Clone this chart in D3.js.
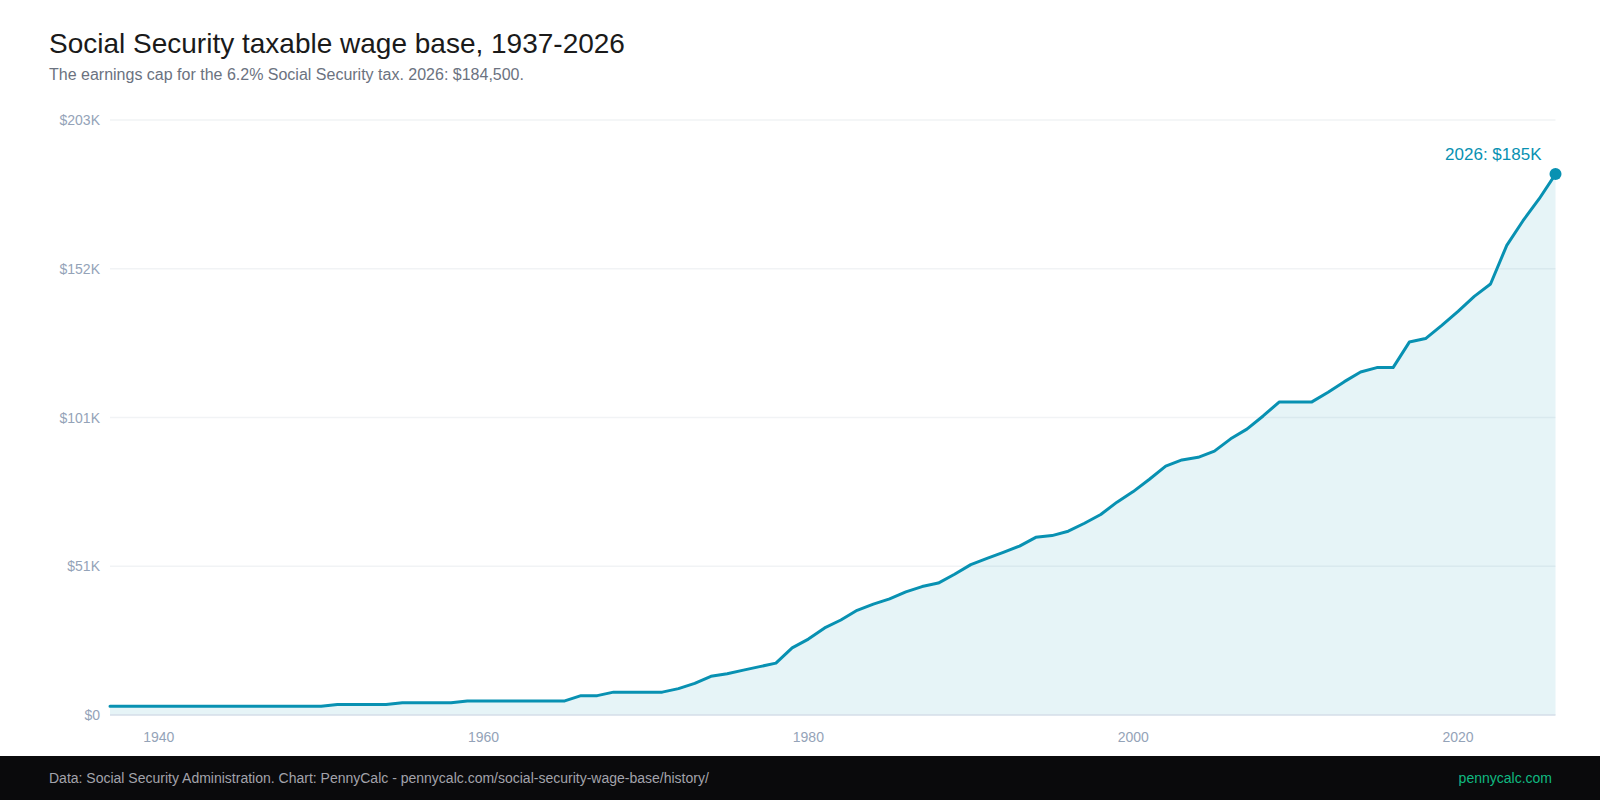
<!DOCTYPE html>
<html><head><meta charset="utf-8">
<script src="https://cdn.jsdelivr.net/npm/d3@7"></script>
<style>html,body{margin:0;padding:0;background:#fff;}svg{display:block;font-family:"Liberation Sans",Arial,Helvetica,sans-serif;}</style>
</head><body>
<svg id="c" width="1600" height="800"></svg>
<script>
const years = d3.range(1937, 2027);
const wageBase = [
 3000,3000,3000,3000,3000,3000,3000,3000,3000,3000,3000,3000,3000,3000, // 1937-1950
 3600,3600,3600,3600, // 1951-1954
 4200,4200,4200,4200, // 1955-1958
 4800,4800,4800,4800,4800,4800,4800, // 1959-1965
 6600,6600, // 1966-1967
 7800,7800,7800,7800, // 1968-1971
 9000,10800,13200,14100,15300,16500,17700, // 1972-1978
 22900,25900,29700,32400,35700,37800,39600,42000,43800,45000, // 1979-1988
 48000,51300,53400,55500,57600,60600,61200,62700,65400,68400, // 1989-1998
 72600,76200,80400,84900,87000,87900,90000,94200,97500,102000, // 1999-2008
 106800,106800,106800,110100,113700,117000,118500,118500,127200,128400, // 2009-2018
 132900,137700,142800,147000,160200,168600,176100,184500 // 2019-2026
];
const yTicks = [0, 50737.5, 101475, 152212.5, 202950];
const xTicks = [1940, 1960, 1980, 2000, 2020];
const titleText = "Social Security taxable wage base, 1937-2026";
const subtitleText = "The earnings cap for the 6.2% Social Security tax. 2026: $184,500.";
const sourceText = "Data: Social Security Administration. Chart: PennyCalc - pennycalc.com/social-security-wage-base/history/";
const brandText = "pennycalc.com";

const data = years.map((y, i) => ({year: y, value: wageBase[i]}));
const svg = d3.select("#c");
const L = 110, R = 1555.5, T = 120, B = 715;
const x = d3.scaleLinear().domain([1937, 2026]).range([L, R]);
const y = d3.scaleLinear().domain([0, 202950]).range([B, T]);
const col = "#0891b2";

svg.append("text").attr("x", 49).attr("y", 53).attr("font-size", 28).attr("fill", "#1a1a1a").text(titleText);
svg.append("text").attr("x", 49).attr("y", 80).attr("font-size", 16).attr("fill", "#6b7280").text(subtitleText);

// gridlines
svg.append("g").selectAll("line").data(yTicks.slice(1)).join("line")
  .attr("x1", L).attr("x2", R).attr("y1", d => y(d)).attr("y2", d => y(d))
  .attr("stroke", "#f1f3f5").attr("stroke-width", 1.5);

// y labels
svg.append("g").selectAll("text").data(yTicks).join("text")
  .attr("x", 100).attr("y", d => y(d) + 5).attr("text-anchor", "end")
  .attr("font-size", 14).attr("fill", "#94a3b8")
  .text(d => d === 0 ? "$0" : "$" + Math.round(d / 1000) + "K");

// area
svg.append("path").datum(data)
  .attr("d", d3.area().x(d => x(d.year)).y0(y(0)).y1(d => y(d.value)))
  .attr("fill", col).attr("fill-opacity", 0.1);

// baseline
svg.append("line").attr("x1", L).attr("x2", R).attr("y1", B).attr("y2", B)
  .attr("stroke", "#d5dee8").attr("stroke-width", 1.5);

// x labels
svg.append("g").selectAll("text").data(xTicks).join("text")
  .attr("x", d => x(d)).attr("y", 742).attr("text-anchor", "middle")
  .attr("font-size", 14).attr("fill", "#94a3b8").text(d => d);

// line
svg.append("path").datum(data)
  .attr("d", d3.line().x(d => x(d.year)).y(d => y(d.value)))
  .attr("fill", "none").attr("stroke", col).attr("stroke-width", 3)
  .attr("stroke-linejoin", "round").attr("stroke-linecap", "round");

const last = data[data.length - 1];
svg.append("circle").attr("cx", x(last.year)).attr("cy", y(last.value)).attr("r", 6).attr("fill", col);
svg.append("text").attr("x", x(last.year) - 14).attr("y", y(last.value) - 14)
  .attr("text-anchor", "end").attr("font-size", 17).attr("fill", col)
  .text(last.year + ": $" + Math.round(last.value / 1000) + "K");

// footer
svg.append("rect").attr("x", 0).attr("y", 756).attr("width", 1600).attr("height", 44).attr("fill", "#0a0a0c");
svg.append("text").attr("x", 49).attr("y", 783).attr("font-size", 14).attr("fill", "#a3a3ab").text(sourceText);
svg.append("text").attr("x", 1552).attr("y", 783).attr("text-anchor", "end").attr("font-size", 14).attr("fill", "#10b981").text(brandText);
</script>
</body></html>
